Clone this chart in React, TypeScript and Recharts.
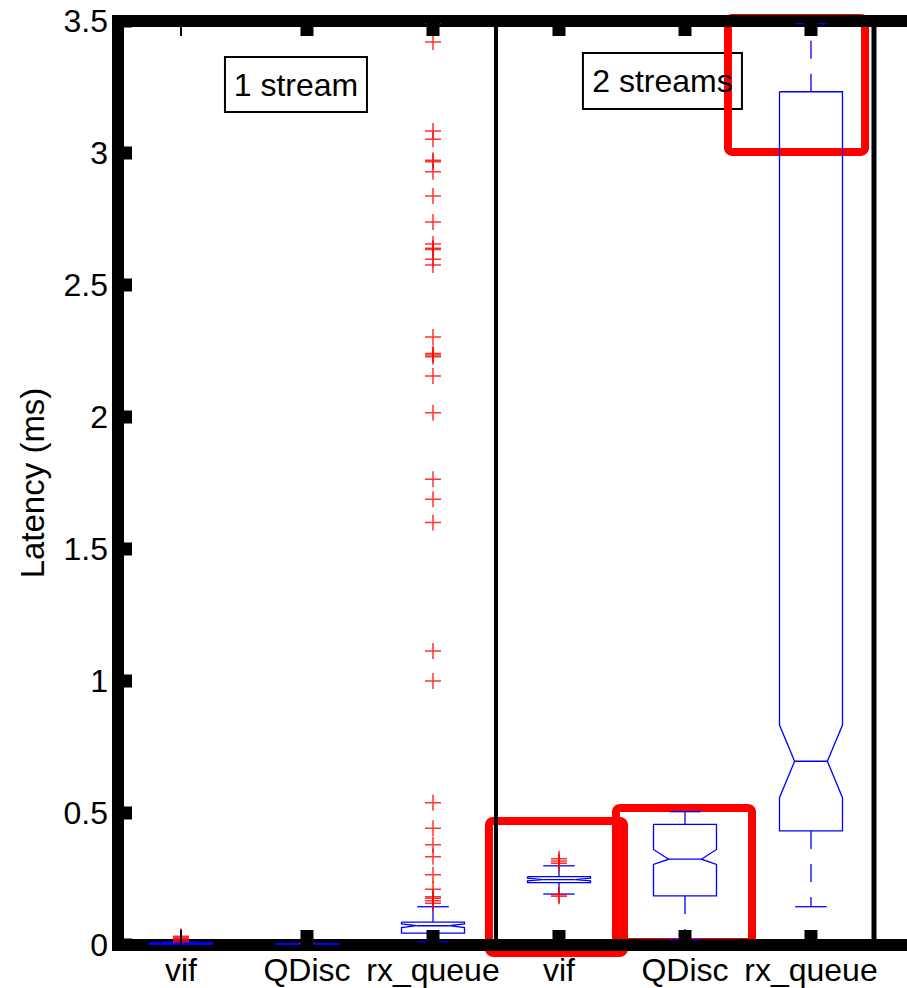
import {
  ComposedChart,
  Scatter,
  XAxis,
  YAxis,
  ReferenceLine,
  ReferenceArea,
} from "recharts";

const FONT = '"Liberation Sans", Arial, Helvetica, sans-serif';
const BLUE = "#0000ff";
const RED = "#ff0000";

// one box per category, 1 stream then 2 streams
const categories = ["vif", "QDisc", "rx_queue", "vif", "QDisc", "rx_queue"];
const whiskerLo = [0.0, 0.001, 0.012, 0.193, 0.02, 0.145];
const q1 = [0.002, 0.002, 0.045, 0.236, 0.186, 0.432];
const notchLo = [0.004, 0.003, 0.066, 0.243, 0.305, 0.558];
const median = [0.005, 0.0035, 0.073, 0.248, 0.325, 0.696];
const notchHi = [0.006, 0.004, 0.08, 0.253, 0.362, 0.833];
const q3 = [0.009, 0.005, 0.087, 0.259, 0.457, 3.232];
const whiskerHi = [0.011, 0.006, 0.145, 0.3, 0.505, 3.49];

const outliers = [
  [0.012, 0.016, 0.02, 0.024, 0.028, 0.033],
  [0.006],
  [
    3.49, 3.42, 3.083, 3.052, 2.973, 2.967, 2.929, 2.837, 2.739, 2.655, 2.639,
    2.634, 2.598, 2.576, 2.303, 2.241, 2.235, 2.228, 2.155, 2.016, 1.764,
    1.688, 1.6, 1.114, 1.0, 0.539, 0.442, 0.38, 0.334, 0.266, 0.211, 0.183,
    0.177, 0.168, 0.158,
  ],
  [0.327, 0.318, 0.31, 0.19, 0.185],
  [],
  [],
];

const yTicks = [0, 0.5, 1, 1.5, 2, 2.5, 3, 3.5];
const xTicks = categories.map((_, i) => i + 1);

const BOX_W = 0.25;
const NOTCH_W = 0.13;
const CAP_W = 0.125;

type Pt = { x: number; y: number };

function boxParts(i: number) {
  const x = i + 1;
  const outline: Pt[] = [
    { x: x - BOX_W, y: q3[i] },
    { x: x + BOX_W, y: q3[i] },
    { x: x + BOX_W, y: notchHi[i] },
    { x: x + NOTCH_W, y: median[i] },
    { x: x + BOX_W, y: notchLo[i] },
    { x: x + BOX_W, y: q1[i] },
    { x: x - BOX_W, y: q1[i] },
    { x: x - BOX_W, y: notchLo[i] },
    { x: x - NOTCH_W, y: median[i] },
    { x: x - BOX_W, y: notchHi[i] },
    { x: x - BOX_W, y: q3[i] },
  ];
  return {
    outline,
    median: [
      { x: x - NOTCH_W, y: median[i] },
      { x: x + NOTCH_W, y: median[i] },
    ],
    upper: [
      { x, y: q3[i] },
      { x, y: whiskerHi[i] },
    ],
    lower: [
      { x, y: q1[i] },
      { x, y: whiskerLo[i] },
    ],
    upperCap: [
      { x: x - CAP_W, y: whiskerHi[i] },
      { x: x + CAP_W, y: whiskerHi[i] },
    ],
    lowerCap: [
      { x: x - CAP_W, y: whiskerLo[i] },
      { x: x + CAP_W, y: whiskerLo[i] },
    ],
  };
}

const noShape = () => <g />;

const Plus = (props: any) => {
  const { cx, cy } = props;
  return (
    <path
      d={`M${cx - 8},${cy}H${cx + 8}M${cx},${cy - 8}V${cy + 8}`}
      stroke={RED}
      strokeWidth={1.5}
      strokeOpacity={0.8}
      fill="none"
    />
  );
};

const BottomTick = (props: any) => {
  const { cx, cy, payload } = props;
  const w = payload.x === 1 ? 2 : 13;
  return <rect x={cx - w / 2} y={cy - 15} width={w} height={15} fill="#000" />;
};

const TopTick = (props: any) => {
  const { cx, cy, payload } = props;
  const w = payload.x === 1 ? 2 : 13;
  return <rect x={cx - w / 2} y={cy} width={w} height={15} fill="#000" />;
};

const LeftTick = (props: any) => {
  const { cx, cy } = props;
  return <rect x={cx} y={cy - 6.5} width={14} height={13} fill="#000" />;
};

export default function App() {
  const solid = { stroke: BLUE, strokeWidth: 1.3 };
  const dashed = { stroke: BLUE, strokeWidth: 1.3, strokeDasharray: "18 15" };
  const tickFont = { fontSize: 32, fill: "#000", fontFamily: FONT };

  return (
    <div style={{ position: "absolute", left: 0, top: 0, background: "#fff" }}>
      <ComposedChart
        width={907}
        height={988}
        margin={{ top: 21, right: 0, bottom: 0, left: 18 }}
      >
        <XAxis
          dataKey="x"
          type="number"
          domain={[0.5, 6.762]}
          ticks={xTicks}
          allowDataOverflow
          tickFormatter={(v) => categories[v - 1] ?? ""}
          tickLine={false}
          tickSize={8}
          tickMargin={5}
          height={43}
          axisLine={{ stroke: "#000", strokeWidth: 12, strokeLinecap: "square" }}
          tick={tickFont}
        />
        <YAxis
          dataKey="y"
          type="number"
          domain={[0, 3.5]}
          ticks={yTicks}
          allowDataOverflow
          width={100}
          tickLine={false}
          tickSize={4}
          tickMargin={6}
          axisLine={{ stroke: "#000", strokeWidth: 12, strokeLinecap: "square" }}
          tick={tickFont}
          label={{
            value: "Latency (ms)",
            angle: -90,
            position: "insideLeft",
            offset: 14,
            style: { textAnchor: "middle", fontSize: 33, fill: "#000", fontFamily: FONT },
          }}
        />

        <ReferenceLine
          y={3.5}
          stroke="#000"
          strokeWidth={12}
          strokeLinecap="square"
          ifOverflow="visible"
        />
        <ReferenceLine x={3.5} stroke="#000" strokeWidth={4} />
        <ReferenceLine x={6.5} stroke="#000" strokeWidth={5} />

        <ReferenceArea
          x1={1.349}
          x2={2.476}
          y1={3.155}
          y2={3.364}
          fill="#fff"
          fillOpacity={1}
          stroke="#000"
          strokeWidth={2}
          ifOverflow="visible"
          label={{ value: "1 stream", position: "center", fontSize: 32, fill: "#000", fontFamily: FONT }}
        />
        <ReferenceArea
          x1={4.19}
          x2={5.452}
          y1={3.167}
          y2={3.379}
          fill="#fff"
          fillOpacity={1}
          stroke="#000"
          strokeWidth={2}
          ifOverflow="visible"
          label={{ value: "2 streams", position: "center", fontSize: 32, fill: "#000", fontFamily: FONT }}
        />

        {categories.map((c, i) => {
          const b = boxParts(i);
          return [
            <Scatter key={`o${i}`} data={b.outline} line={solid} shape={noShape} fill="none" isAnimationActive={false} />,
            <Scatter key={`m${i}`} data={b.median} line={solid} shape={noShape} fill="none" isAnimationActive={false} />,
            <Scatter key={`u${i}`} data={b.upper} line={dashed} shape={noShape} fill="none" isAnimationActive={false} />,
            <Scatter key={`l${i}`} data={b.lower} line={dashed} shape={noShape} fill="none" isAnimationActive={false} />,
            <Scatter key={`uc${i}`} data={b.upperCap} line={solid} shape={noShape} fill="none" isAnimationActive={false} />,
            <Scatter key={`lc${i}`} data={b.lowerCap} line={solid} shape={noShape} fill="none" isAnimationActive={false} />,
            <Scatter
              key={`p${i}`}
              data={outliers[i].map((y) => ({ x: i + 1, y }))}
              shape={Plus}
              isAnimationActive={false}
            />,
          ];
        })}

        <Scatter data={xTicks.map((x) => ({ x, y: 0 }))} shape={BottomTick} isAnimationActive={false} />
        <Scatter data={xTicks.map((x) => ({ x, y: 3.5 }))} shape={TopTick} isAnimationActive={false} />
        <Scatter data={yTicks.map((y) => ({ x: 0.5, y }))} shape={LeftTick} isAnimationActive={false} />

        <ReferenceArea x1={3.444} x2={4.516} y1={-0.03} y2={0.47} fill="none" stroke={RED} strokeWidth={8} radius={4} ifOverflow="visible" />
        <ReferenceArea x1={4.452} x2={5.532} y1={0.011} y2={0.519} fill="none" stroke={RED} strokeWidth={8} radius={4} ifOverflow="visible" />
        <ReferenceArea x1={5.341} x2={6.429} y1={3.004} y2={3.511} fill="none" stroke={RED} strokeWidth={8} radius={4} ifOverflow="visible" />
      </ComposedChart>
    </div>
  );
}
